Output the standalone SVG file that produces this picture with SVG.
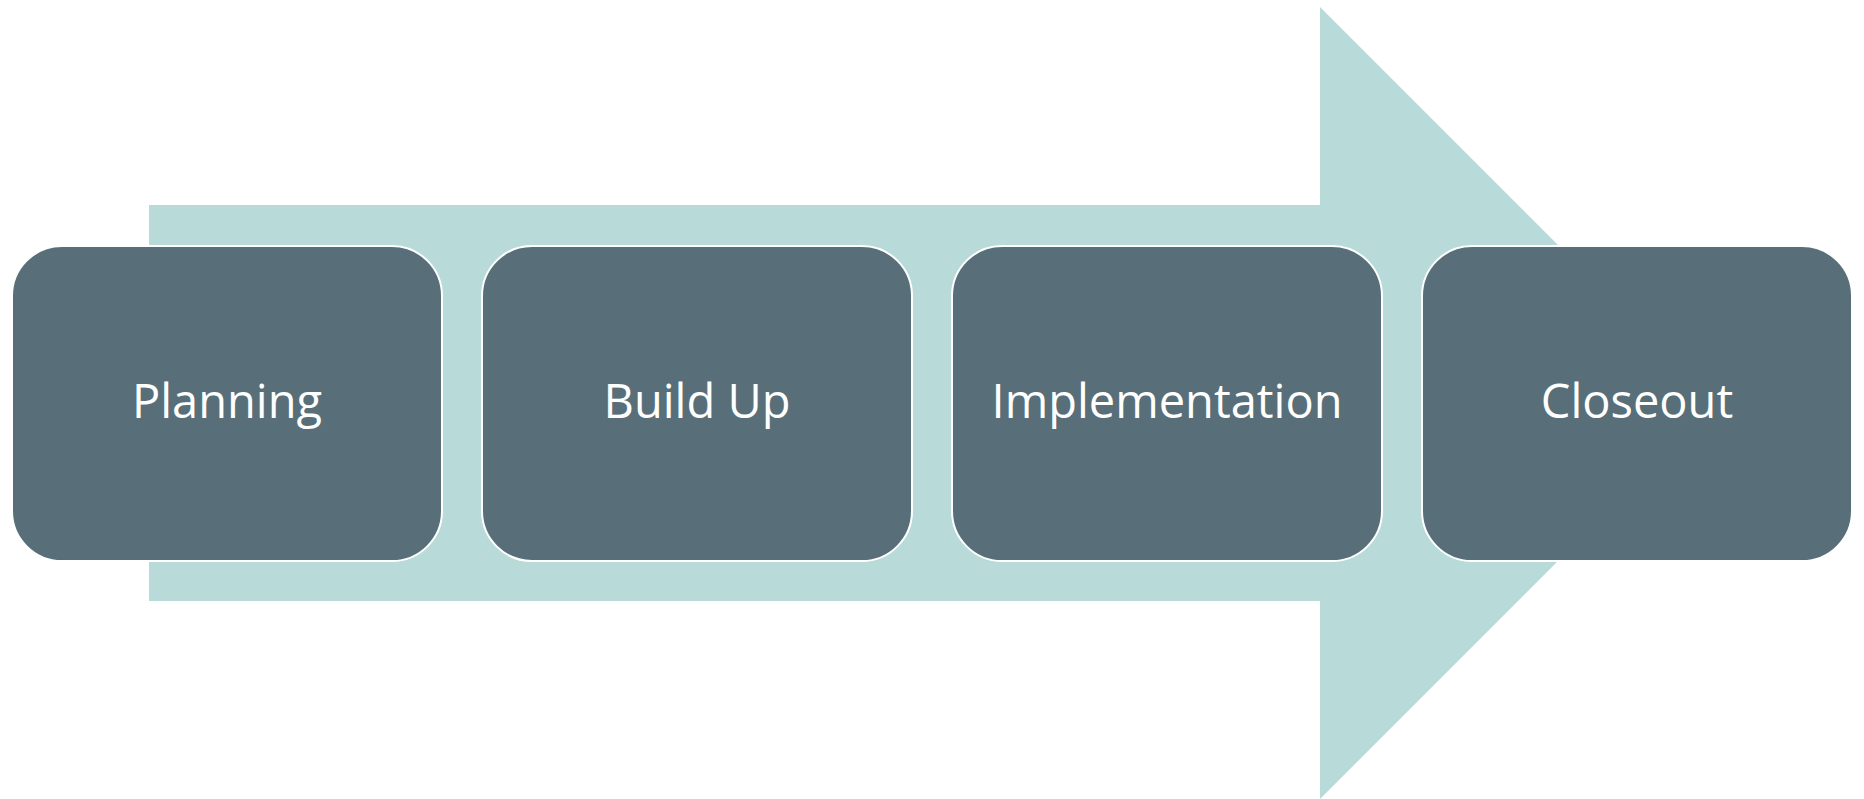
<svg xmlns="http://www.w3.org/2000/svg" width="1864" height="799" viewBox="0 0 1864 799">
<style>
.arrow{fill:#B8DBDA;stroke:none}
.box{fill:#586F7A;stroke:#FFFFFF;stroke-width:2}
.lbl{font-family:"Open Sans","Noto Sans",sans-serif;font-size:47px;fill:#FFFFFF;text-anchor:middle}
</style>
<rect width="1864" height="799" fill="#FFFFFF"/>
<g id="connectors">
<polygon class="arrow" points="149,205 1320,205 1320,7 1716,403 1320,799 1320,601 149,601"/>
</g>
<g id="node-planning">
<rect class="box" x="12" y="246" width="430" height="315" rx="50" ry="50"/>
<text class="lbl" x="227" y="418">Planning</text>
</g>
<g id="node-buildup">
<rect class="box" x="482" y="246" width="430" height="315" rx="50" ry="50"/>
<text class="lbl" x="697" y="418">Build Up</text>
</g>
<g id="node-implementation">
<rect class="box" x="952" y="246" width="430" height="315" rx="50" ry="50"/>
<text class="lbl" x="1167" y="418">Implementation</text>
</g>
<g id="node-closeout">
<rect class="box" x="1422" y="246" width="430" height="315" rx="50" ry="50"/>
<text class="lbl" x="1637" y="418">Closeout</text>
</g>
</svg>
